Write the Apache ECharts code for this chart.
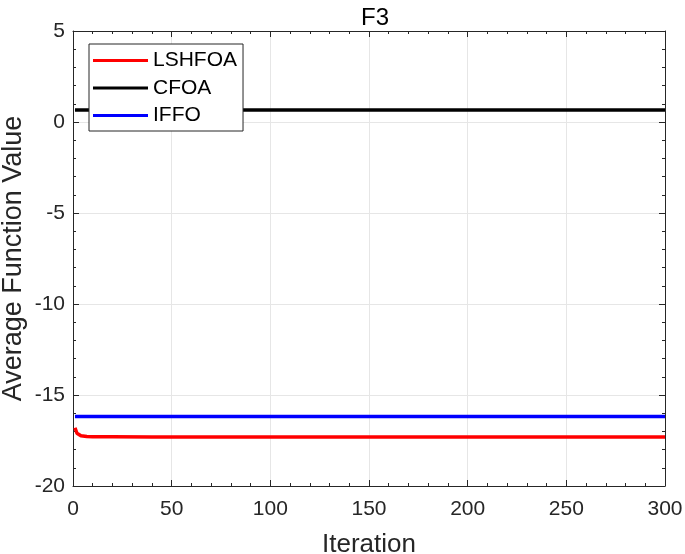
<!DOCTYPE html>
<html>
<head>
<meta charset="utf-8">
<script src="https://cdn.jsdelivr.net/npm/echarts@6/dist/echarts.min.js"></script>
<style>html,body{margin:0;padding:0;background:#fff}#c{width:685px;height:554px}</style>
</head>
<body>
<div id="c"></div>
<script>
const seriesNames = ['LSHFOA', 'CFOA', 'IFFO'];
const seriesColors = ['#ff0000', '#000000', '#0000ff'];
const lshfoaIter = [1, 2, 3, 4, 5, 7, 10, 15, 20, 40, 300];
const lshfoaVals = [-16.8, -17.1, -17.2, -17.24, -17.26, -17.28, -17.29, -17.3, -17.3, -17.31, -17.31];
const cfoaIter = [1, 300];
const cfoaVals = [0.66, 0.66];
const iffoIter = [1, 300];
const iffoVals = [-16.18, -16.18];
const xTicks = [0, 50, 100, 150, 200, 250, 300];
const yTicks = [-20, -15, -10, -5, 0, 5];

const pairs = (xs, ys) => xs.map((x, i) => [x, ys[i]]);
const dataSets = [pairs(lshfoaIter, lshfoaVals), pairs(cfoaIter, cfoaVals), pairs(iffoIter, iffoVals)];

const axisColor = '#262626';
const font = 'Liberation Sans, Arial, sans-serif';
const tickLine = {show: true, inside: true, length: 6, lineStyle: {color: axisColor, width: 1}};
const minorTick = {show: true, splitNumber: 5, length: 3, lineStyle: {color: axisColor, width: 1}};

const chart = echarts.init(document.getElementById('c'), null, {renderer: 'canvas'});
chart.setOption({
  backgroundColor: '#ffffff',
  animation: false,
  title: {
    text: 'F3', left: 370, top: 1, textAlign: 'center',
    textStyle: {fontFamily: font, fontSize: 24, fontWeight: 'normal', color: '#000'}
  },
  grid: {left: 73, right: 20, top: 31, bottom: 68, show: false, containLabel: false, outerBoundsMode: 'none'},
  legend: {
    orient: 'vertical', left: 89, top: 44,
    data: seriesNames,
    icon: 'rect', itemWidth: 55, itemHeight: 3, itemGap: 6.5,
    padding: [6, 6, 5, 4],
    backgroundColor: '#ffffff', borderColor: axisColor, borderWidth: 1,
    textStyle: {fontFamily: font, fontSize: 21, color: '#000', lineHeight: 21, padding: [0, 0, 0, 0]}
  },
  xAxis: [{
    type: 'value', min: 0, max: 300, interval: 50,
    name: 'Iteration', nameLocation: 'middle', nameGap: 46, nameMoveOverlap: false,
    nameTextStyle: {fontFamily: font, fontSize: 26, color: axisColor},
    axisLine: {show: true, onZero: false, lineStyle: {color: axisColor, width: 1}},
    axisTick: tickLine,
    minorTick: minorTick,
    axisLabel: {fontFamily: font, fontSize: 21, color: axisColor, margin: 13},
    splitLine: {show: true, lineStyle: {color: '#e6e6e6', width: 1}}
  }, {
    type: 'value', min: 0, max: 300, interval: 50, position: 'top',
    axisLine: {show: true, onZero: false, lineStyle: {color: axisColor, width: 1}},
    axisTick: tickLine, minorTick: minorTick,
    axisLabel: {show: false}, splitLine: {show: false}
  }],
  yAxis: [{
    type: 'value', min: -20, max: 5, interval: 5,
    name: 'Average Function Value', nameLocation: 'middle', nameGap: 46, nameMoveOverlap: false,
    nameTextStyle: {fontFamily: font, fontSize: 27, color: axisColor},
    axisLine: {show: true, onZero: false, lineStyle: {color: axisColor, width: 1}},
    axisTick: tickLine,
    minorTick: minorTick,
    axisLabel: {fontFamily: font, fontSize: 21, color: axisColor, margin: 8},
    splitLine: {show: true, lineStyle: {color: '#e6e6e6', width: 1}}
  }, {
    type: 'value', min: -20, max: 5, interval: 5, position: 'right',
    axisLine: {show: true, onZero: false, lineStyle: {color: axisColor, width: 1}},
    axisTick: tickLine, minorTick: minorTick,
    axisLabel: {show: false}, splitLine: {show: false}
  }],
  series: seriesNames.map((name, i) => ({
    name: name, type: 'line', xAxisIndex: 0, yAxisIndex: 0,
    data: dataSets[i], showSymbol: false, symbol: 'none', smooth: false,
    color: seriesColors[i],
    lineStyle: {color: seriesColors[i], width: 3.5},
    z: 3 - i
  }))
});
</script>
</body>
</html>
